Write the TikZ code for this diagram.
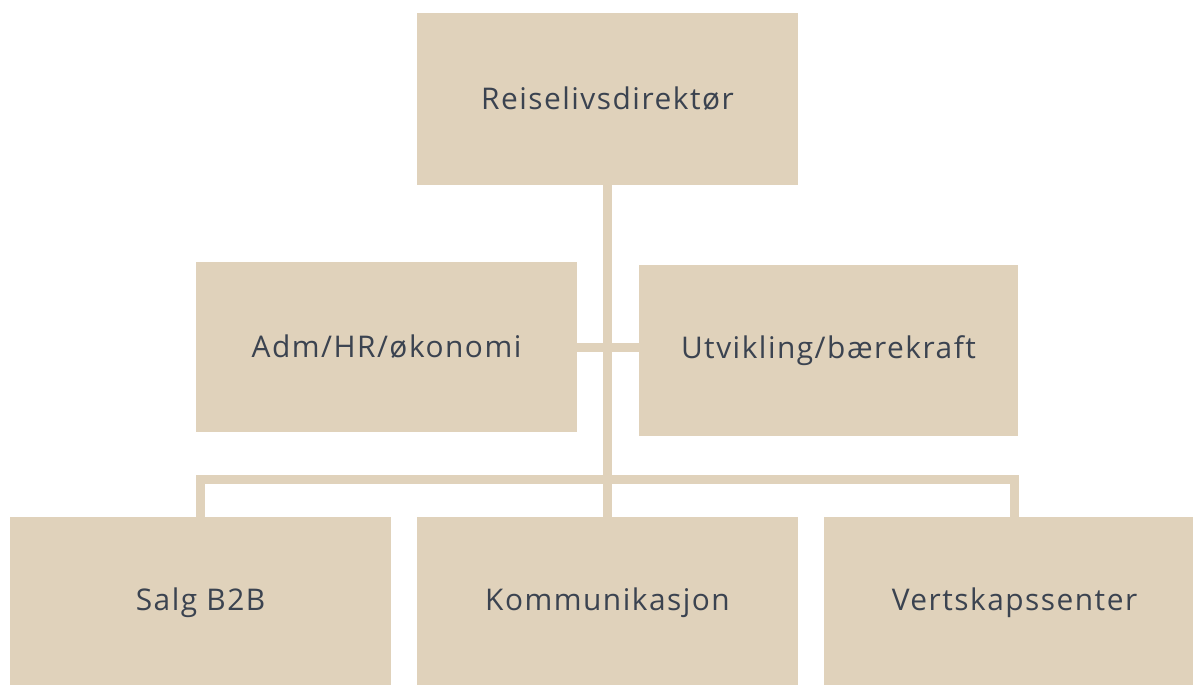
\documentclass[tikz,border=0pt]{standalone}
\usepackage{fontspec}
\setmainfont[LetterSpace=5]{Open Sans}
\definecolor{beige}{HTML}{E0D2BB}
\definecolor{ink}{HTML}{3B4350}
\begin{document}
\begin{tikzpicture}[x=0.02cm, y=-0.02cm,
    every node/.style={fill=beige, text=ink, minimum width=7.62cm, minimum height=3.42cm, inner sep=0pt, font=\fontsize{17}{20}\selectfont},
    link/.style={draw=beige, line width=0.18cm, line join=miter}]
  \useasboundingbox (0,0) rectangle (1193,684);
  \begin{scope}
    \clip (0,0) rectangle (1193,684);
    \node (top) at (607.5,99) [minimum height=3.44cm] {Reiselivsdirektør};
    \node (adm) at (386.5,347) {Adm/HR/økonomi};
    \node (utv) at (828.5,350.5) [minimum width=7.58cm] {Utvikling/bærekraft};
    \node (salg) at (200.5,603) [minimum height=3.44cm] {Salg B2B};
    \node (komm) at (607.5,603) [minimum height=3.44cm] {Kommunikasjon};
    \node (vert) at (1014.5,603) [minimum height=3.44cm] {Vertskapssenter};
    \coordinate (bus) at (607.5,479);
    \path[link] (top) -- (komm);
    \path[link] (adm.east) -- (adm.east -| utv.west);
    \foreach \dest in {salg, vert}
      \path[link] (bus) -| (\dest.north);
  \end{scope}
\end{tikzpicture}
\end{document}
